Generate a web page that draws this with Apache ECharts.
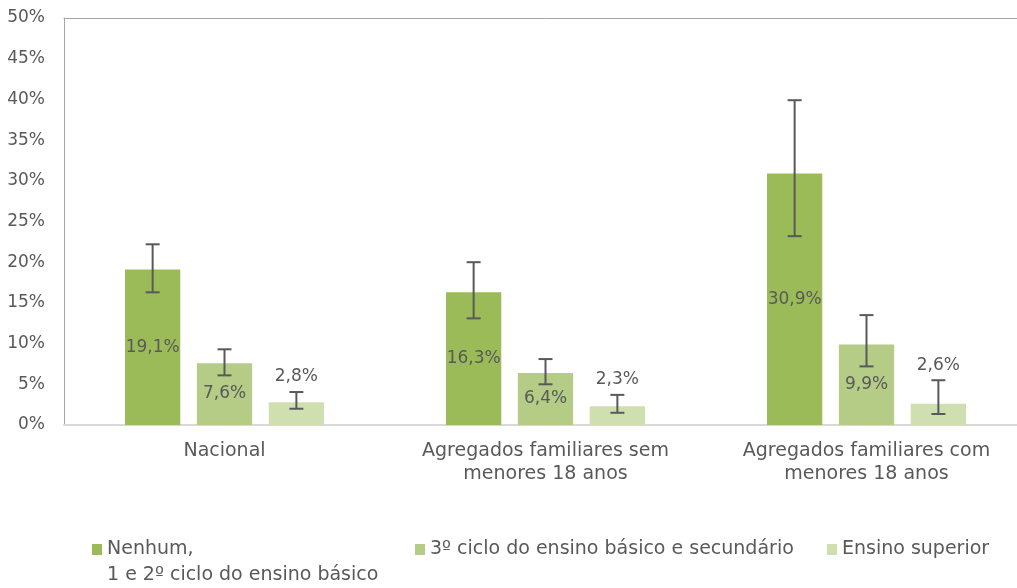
<!DOCTYPE html>
<html>
<head>
<meta charset="utf-8">
<script src="https://cdn.jsdelivr.net/npm/echarts@6/dist/echarts.min.js"></script>
<style>
  html, body { margin: 0; padding: 0; background: #fff; overflow: hidden; }
  /* the plot area runs past the right edge in the original, so the chart is a bit wider than the window */
  #chart { width: 1040px; height: 588px; }
</style>
</head>
<body>
<div id="chart"></div>
<script>
const categories = ['Nacional', 'Agregados familiares sem\nmenores 18 anos', 'Agregados familiares com\nmenores 18 anos'];
const seriesNames = ['Nenhum,\n1 e 2º ciclo do ensino básico', '3º ciclo do ensino básico e secundário', 'Ensino superior'];
const nenhum = [19.1, 16.3, 30.9];
const terceiroCiclo = [7.6, 6.4, 9.9];
const superior = [2.8, 2.3, 2.6];
// error bar limits
const nenhumLow = [16.3, 13.1, 23.2];
const nenhumHigh = [22.2, 20.0, 39.9];
const terceiroLow = [6.1, 5.0, 7.2];
const terceiroHigh = [9.3, 8.1, 13.5];
const superiorLow = [2.0, 1.5, 1.35];
const superiorHigh = [4.05, 3.7, 5.5];
const yTicks = [0, 50, 5];

const colors = ['#9bbb59', '#b4cc86', '#d0dfb0'];
const font = 'DejaVu Sans, sans-serif';
const textColor = '#595959';

const fmt = v => v.toFixed(1).replace('.', ',') + '%';

// idx = position of the bar inside its group; withLabel puts the value above the error bar
function errSeries(idx, values, low, high, withLabel) {
  return {
    type: 'custom',
    name: 'err' + idx,
    data: values.map((v, i) => [i, low[i], high[i], v]),
    z: 10,
    renderItem: function (params, api) {
      const band = api.size([1, 0])[0];
      const bw = band * 0.62 / 3.6;
      const off = bw * 1.3 * (idx - 1);
      const lo = api.coord([api.value(0), api.value(1)]);
      const hi = api.coord([api.value(0), api.value(2)]);
      const x = lo[0] + off;
      const cap = 7;
      const style = { stroke: '#595959', lineWidth: 2 };
      const children = [
        { type: 'line', shape: { x1: x, y1: lo[1], x2: x, y2: hi[1] }, style: style },
        { type: 'line', shape: { x1: x - cap, y1: lo[1], x2: x + cap, y2: lo[1] }, style: style },
        { type: 'line', shape: { x1: x - cap, y1: hi[1], x2: x + cap, y2: hi[1] }, style: style }
      ];
      if (withLabel) {
        children.push({
          type: 'text', x: x, y: hi[1] - 15,
          style: {
            text: fmt(api.value(3)), font: '17px ' + font, fill: textColor,
            align: 'center', verticalAlign: 'middle'
          }
        });
      }
      return { type: 'group', children: children };
    }
  };
}

const valueLabel = { fontFamily: font, fontSize: 17, color: textColor };
const legendText = { fontFamily: font, fontSize: 19, color: textColor };

const chart = echarts.init(document.getElementById('chart'));
chart.setOption({
  animation: false,
  textStyle: { fontFamily: font },
  grid: { left: 64, top: 18, width: 963, height: 407, outerBoundsMode: 'none' },
  legend: [
    {
      data: [seriesNames[0]], left: 92, top: 540, padding: 0, itemWidth: 10, itemHeight: 11,
      icon: 'rect', textStyle: legendText, formatter: () => 'Nenhum,'
    },
    {
      data: [seriesNames[1]], left: 415, top: 540, padding: 0, itemWidth: 10, itemHeight: 11,
      icon: 'rect', textStyle: legendText
    },
    {
      data: [seriesNames[2]], left: 827, top: 540, padding: 0, itemWidth: 10, itemHeight: 11,
      icon: 'rect', textStyle: legendText
    }
  ],
  graphic: [{
    type: 'text', left: 107, top: 566,
    style: { text: '1 e 2º ciclo do ensino básico', font: '19px ' + font, fill: textColor }
  }],
  xAxis: [
    {
      type: 'category',
      data: categories,
      axisLine: { lineStyle: { color: '#d9d9d9', width: 2 } },
      axisTick: { show: false },
      axisLabel: { interval: 0, fontFamily: font, fontSize: 19, color: textColor, margin: 15, lineHeight: 23 }
    },
    {
      // top edge of the plot frame
      type: 'category', position: 'top', data: categories,
      axisLine: { lineStyle: { color: '#a6a6a6', width: 1 } },
      axisTick: { show: false }, axisLabel: { show: false }
    }
  ],
  yAxis: {
    type: 'value',
    min: yTicks[0], max: yTicks[1], interval: yTicks[2],
    axisLine: { show: true, lineStyle: { color: '#a6a6a6' } },
    axisTick: { show: false },
    splitLine: { show: false },
    axisLabel: { fontFamily: font, fontSize: 17, color: textColor, margin: 19, formatter: '{value}%' }
  },
  series: [
    {
      type: 'bar', name: seriesNames[0], data: nenhum, barGap: '30%', barCategoryGap: '38%',
      itemStyle: { color: colors[0] },
      label: { show: true, position: 'inside', formatter: p => fmt(p.value), ...valueLabel }
    },
    {
      type: 'bar', name: seriesNames[1], data: terceiroCiclo,
      itemStyle: { color: colors[1] },
      label: { show: true, position: 'inside', formatter: p => fmt(p.value), ...valueLabel }
    },
    {
      type: 'bar', name: seriesNames[2], data: superior,
      itemStyle: { color: colors[2] }
    },
    errSeries(0, nenhum, nenhumLow, nenhumHigh, false),
    errSeries(1, terceiroCiclo, terceiroLow, terceiroHigh, false),
    errSeries(2, superior, superiorLow, superiorHigh, true)
  ]
});
</script>
</body>
</html>
